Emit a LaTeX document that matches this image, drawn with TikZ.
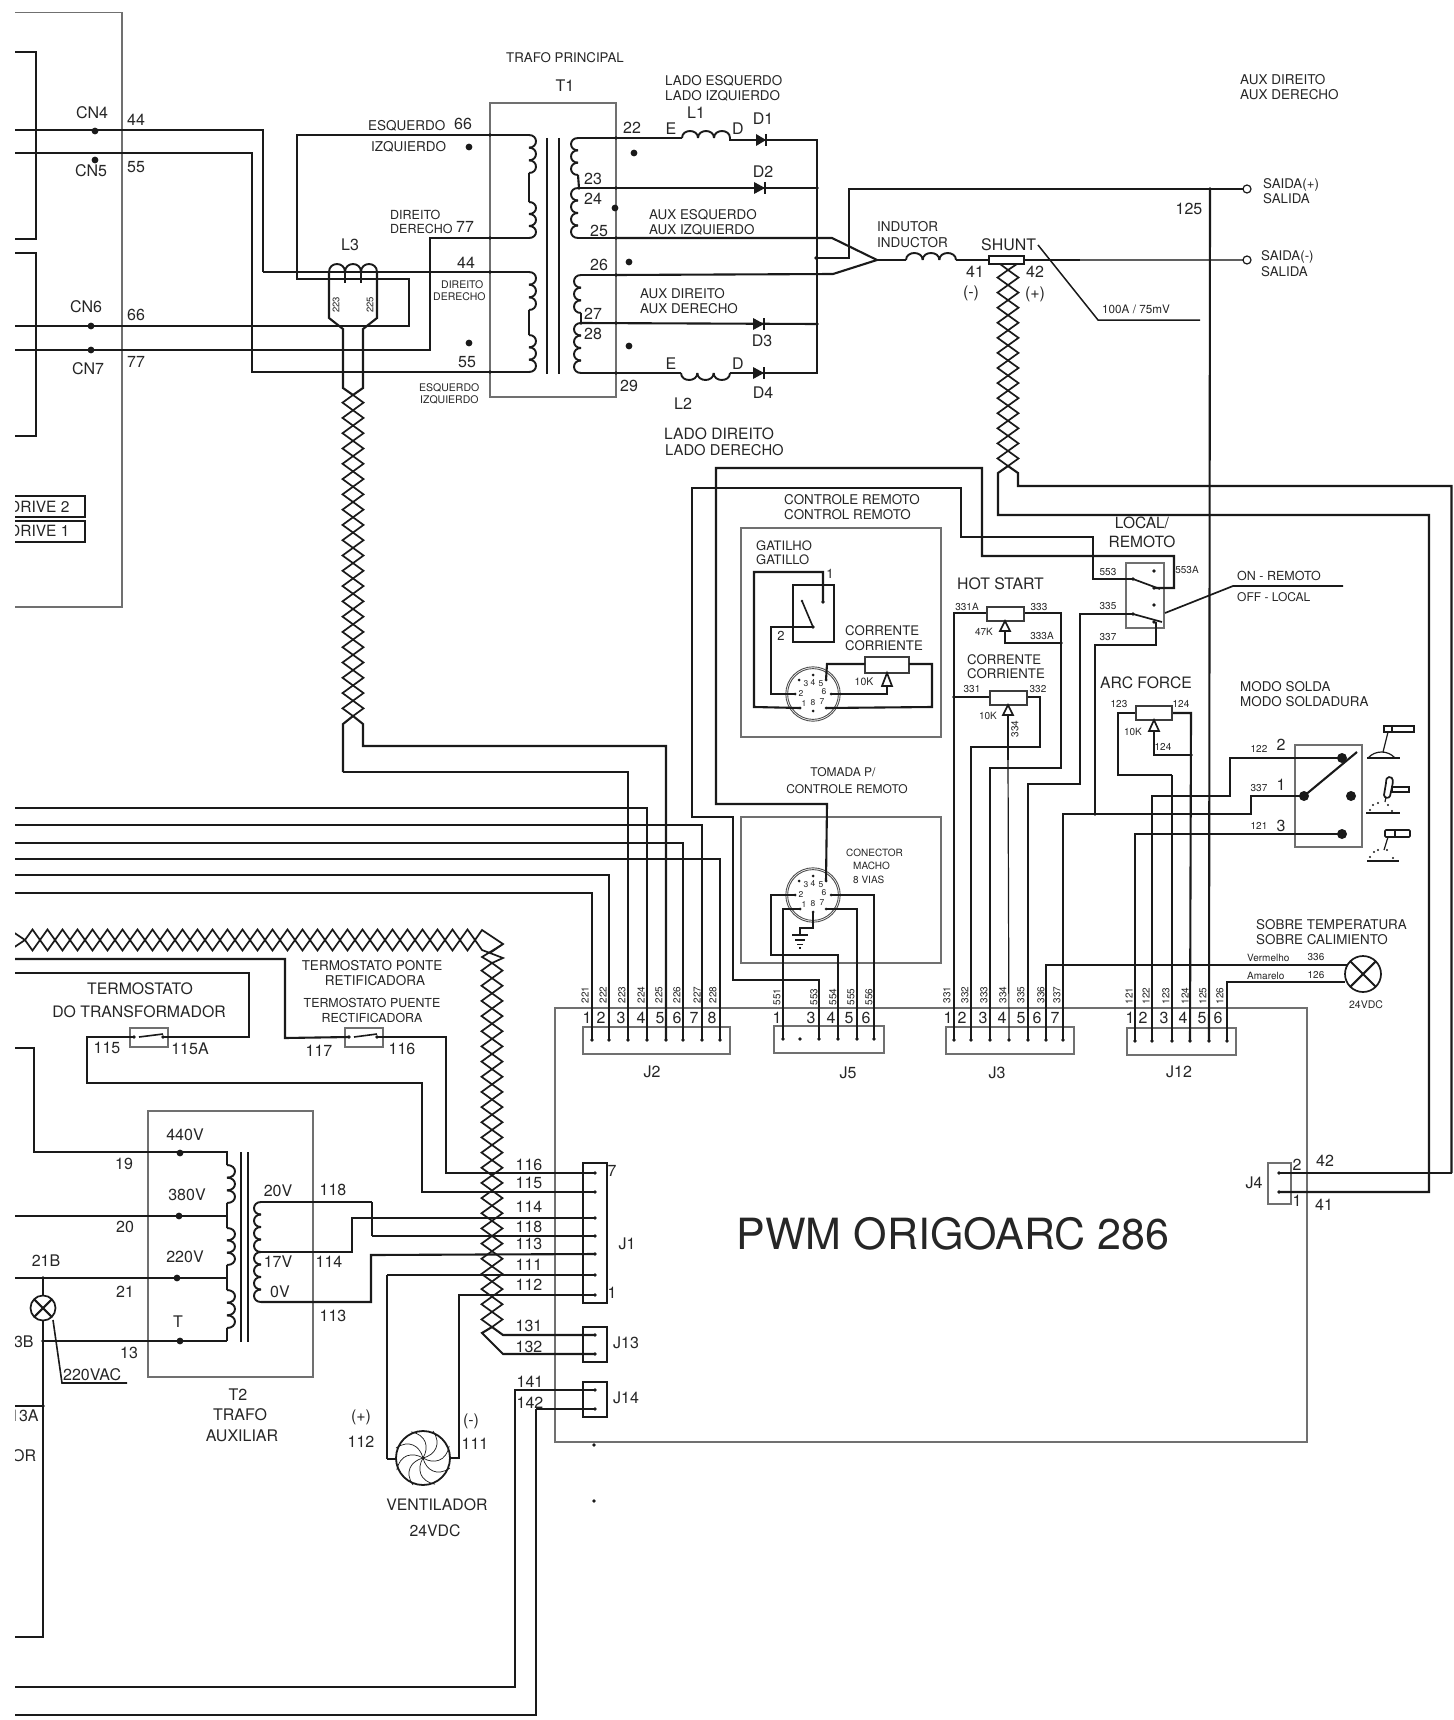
\documentclass[tikz,border=0pt]{standalone}
\usepackage{fontspec}
\setmainfont{TeX Gyre Heros}
\definecolor{ink}{HTML}{1A1A1A}
\definecolor{txt}{HTML}{262626}
\definecolor{boxg}{HTML}{707070}
\newcounter{lbl}
\tikzset{
  wire/.style={draw=ink,line width=2.1pt,line join=miter},
  twisted/.style={draw=ink,line width=1.7pt,line join=miter},
  thinw/.style={draw=ink,line width=1.2pt},
  grayb/.style={draw=boxg,line width=1.1pt},
  part/.style={draw=ink,line width=1.7pt},
  potb/.style={draw=ink!85,line width=1.1pt,fill=white},
  lab/.style={inner sep=0pt,text=txt},
}
% text helpers: centre, left aligned, rotated
\newcommand\Tc[4]{\stepcounter{lbl}\node[lab,font=\fontsize{#3}{#3}\selectfont] (lbl\thelbl) at (#1,#2) {#4};}
\newcommand\Tl[4]{\stepcounter{lbl}\node[lab,anchor=west,yshift=-.8pt,font=\fontsize{#3}{#3}\selectfont] (lbl\thelbl) at (#1,#2) {#4};}
\newcommand\Tr[4]{\stepcounter{lbl}\node[lab,rotate=90,font=\fontsize{#3}{#3}\selectfont] (lbl\thelbl) at (#1,#2) {#4};}
% pin: named coordinate and a dot
\newcommand\pin[3]{\coordinate (#1) at (#2,#3);\fill[ink] (#1) circle (1.9pt);}
\newcommand\bigdot[3]{\coordinate (#1) at (#2,#3);\fill[ink] (#1) circle (3.4pt);}
% coils
\newcommand\coilV[5]{\pgfmathsetmacro\hh{(#3-#2)/#4}\foreach \i in {1,...,#4}{\pgfmathsetmacro\ya{#2+(\i-1)*\hh}\pgfmathsetmacro\yb{#2+\i*\hh}\pgfmathsetmacro\xc{#1+#5*1.33}\draw[wire,line width=1.9pt] (#1,\ya) .. controls (\xc,\ya) and (\xc,\yb) .. (#1,\yb);}}
\newcommand\coilH[5]{\pgfmathsetmacro\hh{(#2-#1)/#4}\foreach \i in {1,...,#4}{\pgfmathsetmacro\xa{#1+(\i-1)*\hh}\pgfmathsetmacro\xb{#1+\i*\hh}\pgfmathsetmacro\yc{#3+#5*1.33}\draw[wire,line width=1.9pt] (\xa,#3) .. controls (\xa,\yc) and (\xb,\yc) .. (\xb,#3);}}
% twisted pairs: crossings from first to last, n periods
\newcommand\twistV[5]{\pgfmathsetmacro\hh{(#3-#2)/#4}\foreach \i in {1,...,#4}{\pgfmathsetmacro\ya{#2+(\i-1)*\hh}\pgfmathsetmacro\yb{#2+\i*\hh}\pgfmathsetmacro\ym{(\ya+\yb)/2}\pgfmathsetmacro\xl{#1-#5}\pgfmathsetmacro\xr{#1+#5}\draw[twisted] (#1,\ya) -- (\xl,\ym) -- (#1,\yb) -- (\xr,\ym) -- cycle;}}
\newcommand\twistH[5]{\pgfmathsetmacro\hh{(#2-#1)/#4}\foreach \i in {1,...,#4}{\pgfmathsetmacro\xa{#1+(\i-1)*\hh}\pgfmathsetmacro\xb{#1+\i*\hh}\pgfmathsetmacro\xm{(\xa+\xb)/2}\pgfmathsetmacro\yu{#3-#5}\pgfmathsetmacro\yd{#3+#5}\draw[twisted] (\xa,#3) -- (\xm,\yu) -- (\xb,#3) -- (\xm,\yd) -- cycle;}}
% diode: base x, tip x, y
\newcommand\diode[3]{\fill[ink] (#1,#3-6) -- (#2,#3) -- (#1,#3+6) -- cycle;\draw[ink,line width=1.8pt] (#2,#3-6) -- (#2,#3+6);}
% open arrow of a potentiometer
\newcommand\potarrow[3]{\draw[draw=ink,fill=white,line width=1.7pt,line join=miter] (#1,#2) -- (#1+5,#3) -- (#1-5,#3) -- cycle;}
% 8 way connector
\newcommand\eightway[3]{%
  \draw[boxg!70!black,line width=.9pt] (#1,#2) circle (27.2pt);
  \draw[boxg!70!black,line width=.9pt] (#1,#2) circle (25.4pt);
  \pinsm{#3a}{#1-13}{#2+14}\pinsm{#3b}{#1-18}{#2}\pinsm{#3c}{#1-14}{#2-14}\pinsm{#3d}{#1}{#2-19}%
  \pinsm{#3e}{#1+13}{#2-14}\pinsm{#3f}{#1+18}{#2}\pinsm{#3g}{#1+13}{#2+14}\pinsm{#3h}{#1}{#2+17}%
  \Tc{#1-9}{#2+9}{8.5}{1}\Tc{#1-12}{#2-1}{8.5}{2}\Tc{#1-7}{#2-10}{8.5}{3}\Tc{#1}{#2-12}{8.5}{4}%
  \Tc{#1+8}{#2-10}{8.5}{5}\Tc{#1+11}{#2-2}{8.5}{6}\Tc{#1+9}{#2+8}{8.5}{7}\Tc{#1}{#2+9}{8.5}{8}}
\newcommand\pinsm[3]{\coordinate (#1) at ({#2},{#3});\fill[ink] (#1) circle (1.5pt);}
\newcommand\lampX[3]{\draw[part,fill=white] (#1,#2) circle (#3pt);\draw[wire] (#1,#2) ++(-#3*.72,-#3*.72) -- ++(#3*1.44,#3*1.44);\draw[wire] (#1,#2) ++(#3*.72,-#3*.72) -- ++(-#3*1.44,#3*1.44);}
\begin{document}
\begin{tikzpicture}[x=1pt,y=-1pt]
\useasboundingbox (0,0) rectangle (1453,1720);
\fill[white] (0,0) rectangle (1453,1720);
\begin{scope}
\clip (15,0) rectangle (1453,1720);
%-------- gray boxes
\draw[grayb] (15,12.5) -- (122,12.5) -- (122,607) -- (15,607);
\draw[grayb] (490,103) rectangle (616,397);
\draw[grayb] (741,528) rectangle (941,737);
\draw[grayb] (741,817) rectangle (941,963);
\draw[grayb] (1126,563) rectangle (1164,628);
\draw[grayb] (1295,745) rectangle (1362,847);
\draw[part] (793,585) rectangle (834,642);
\draw[grayb] (555,1008) -- (1307,1008) -- (1307,1442) -- (555,1442) -- cycle;
\draw[grayb] (583,1027) rectangle (730,1054);
\draw[grayb] (774,1026) rectangle (884,1053);
\draw[grayb] (946,1027) rectangle (1074,1054);
\draw[grayb] (1127,1028) rectangle (1236,1055);
\draw[grayb] (1268,1163) rectangle (1291,1204);
\draw[grayb] (148,1111) rectangle (313,1377);
\draw[grayb] (130,1028) rectangle (168,1047);
\draw[grayb] (345,1028) rectangle (383,1047);
%-------- left frames
\draw[wire] (15,52) -- (36,52) -- (36,239) -- (15,239);
\draw[wire] (15,253) -- (36,253) -- (36,436) -- (15,436);
\draw[wire] (15,496) -- (85,496) -- (85,517) -- (15,517);
\draw[wire] (15,521) -- (85,521) -- (85,542) -- (15,542);
\Tl{9}{506}{15.5}{DRIVE 2}
\Tl{9}{530}{15.5}{DRIVE 1}
%-------- T1 pins
\pin{pa}{490}{135}\pin{pb}{490}{238}\pin{pc}{490}{272}\pin{pd}{490}{372}
\pin{sa}{616}{138}\pin{sb}{616}{188}\pin{sc}{616}{238}\pin{sd}{616}{275}\pin{se}{616}{323}\pin{sf}{616}{373}
\bigdot{cn4}{95}{131}\bigdot{cn5}{95}{160}\bigdot{cn6}{91}{326}\bigdot{cn7}{91}{350}
\bigdot{d1}{469}{147}\bigdot{d2}{469}{343}\bigdot{d3}{634}{153}\bigdot{d4}{615}{208}\bigdot{d5}{629}{262}\bigdot{d6}{629}{346}
%-------- primary wiring
\draw[wire] (15,130) -- (263,130) -- (263,272);
\draw[thinw] (263,272) -- (pc) -- (530,272);
\draw[wire] (15,153) -- (252,153) -- (252,372) -- (pd) -- (530,372);
\draw[wire] (15,326) -- (409,326) -- (409,279) -- (297,279) -- (297,135) -- (pa) -- (529,135);
\draw[wire] (15,350) -- (430,350) -- (430,238) -- (pb) -- (529,238);
\coilV{529}{135}{173}{3}{7}\draw[wire] (529,173) -- (529,202);\coilV{529}{202}{238}{3}{7}
\coilV{529}{272}{310}{3}{7}\draw[wire] (529,310) -- (529,335);\coilV{529}{335}{372}{3}{7}
\draw[draw=ink,line width=1.5pt] (547,138) -- (547,374) (559,138) -- (559,374);
%-------- secondary wiring
\draw[wire] (sa) -- (578,138);
\coilV{578}{138}{175}{3}{-7}
\pin{t23}{579}{188}
\draw[wire] (578,175) -- (t23);
\coilV{578}{188}{238}{4}{-7}
\draw[wire] (578,238) -- (sc);
\draw[wire] (sd) -- (581,275);
\coilV{581}{275}{313}{3}{-7}
\pin{t27}{581}{323}
\draw[wire] (581,313) -- (t27);
\coilV{581}{323}{373}{4}{-7}
\draw[wire] (581,373) -- (sf);
% rectifier
\pin{bus1}{817}{188}\pin{bus2}{817}{324}\pin{bus3}{816}{258}
\draw[wire] (sa) -- (682,138);
\coilH{682}{730}{138}{3}{-7}
\draw[wire] (730,138) -- (730,140) -- (817,140) -- (817,373) -- (730,373);
\draw[wire] (t23) -- (bus1);
\draw[wire] (t27) -- (bus2);
\draw[wire] (sf) -- (681,373);
\coilH{681}{730}{373}{3}{7}
\diode{756}{766}{140}\diode{754}{765}{188}\diode{753}{764}{324}\diode{753}{764}{373}
\coordinate (apex) at (877,260);
\draw[wire] (sc) -- (832,238) -- (apex);
\draw[wire] (sd) -- (833,274) -- (apex);
\draw[wire] (bus3) -- (849,258) -- (849,189) -- (1210,189);
\pin{n125}{1210}{189}
\coordinate (sp) at (1247,189);\coordinate (sm) at (1247,260);
\draw[wire] (n125) -- (sp);
\draw[draw=ink,line width=1.2pt,fill=white] (sp) circle (4pt);
\draw[wire] (apex) -- (906,260);
\coilH{906}{956}{260}{3}{-7}
\draw[wire] (956,260) -- (989,260);
\draw[wire] (1024,260) -- (1080,260);
\draw[draw=ink!70,line width=1.4pt] (1080,260) -- (sm);
\draw[draw=ink,line width=1.2pt,fill=white] (sm) circle (4pt);
\draw[part,fill=white] (989,256) rectangle (1024,264);
\draw[thinw,line width=1.5pt] (1038,245) -- (1098,320) -- (1200,320);
%-------- L3
\coilH{329}{377}{272}{3}{-8}
\draw[wire] (345,272) -- (345,283) (361,272) -- (361,283);
\draw[wire] (329,272) -- (329,318) -- (343,329) -- (343,388) -- (353,395);
\draw[wire] (377,272) -- (377,318) -- (363,329) -- (363,388) -- (353,395);
\twistV{353}{395}{716}{21}{10.5}
%-------- J2
\foreach \n/\x in {1/592,2/609,3/628,4/647,5/666,6/683,7/702,8/720}{\pin{jb\n}{\x}{1040}}
\draw[wire] (353,716) -- (343,724) -- (343,772);
\draw[thinw] (343,772) -- (628,772) -- (jb3);
\draw[wire] (353,716) -- (363,724) -- (363,746) -- (666,746) -- (jb5);
\draw[wire] (jb1) |- (15,893);
\draw[wire] (jb2) |- (15,875);
\draw[wire] (jb4) |- (15,808);
\draw[wire] (jb6) |- (15,843);
\draw[wire] (jb7) |- (15,825);
\draw[wire] (jb8) |- (15,859);
\foreach \t/\x/\r/\q in {1/587/221/585,2/601/222/603,3/621/223/622,4/641/224/641,5/660/225/659,6/677/226/677,7/694/227/697,8/712/228/713}{\Tc{\x}{1018}{16}{\t}\Tr{\q}{995}{10}{\r}}
%-------- J5
\foreach \n/\x in {a/783,b/800,c/819,d/838,e/857,f/874}{\pin{je\n}{\x}{1039}}
\foreach \t/\x/\r/\q in {1/777/551/777,3/811/553/814,4/831/554/833,5/849/555/851,6/866/556/869}{\Tc{\x}{1018}{16}{\t}\Tr{\q}{997}{10}{\r}}
\eightway{813}{895}{cm}
\eightway{813}{694}{cr}
\draw[wire] (jea) |- (cma);
\draw[wire] (jec) -- (819,980) -- (733,980) -- (733,817) -- (692,817) -- (692,488) -- (961,488) -- (961,537) -- (1093,537) -- (1093,579) -- (1133,579);
\draw[wire] (jed) -- (838,955) -- (771,955) -- (771,895) -- (cmb);
\draw[wire] (jee) |- (cmg);
\draw[wire] (jef) |- (cmf);
\draw[wire] (cme) -- (827,804) -- (716,804) -- (716,468) -- (982,468) -- (982,556) -- (1174,556) -- (1174,588) -- (1154,588);
\draw[wire] (cmh) -- (813,928) -- (800,928) -- (800,935);
\draw[wire] (792,935) -- (808,935);
\draw[wire] (795,940) -- (805,940);
\draw[wire,line width=1.6pt] (797,944.5) -- (803,944.5);
\draw[wire,line width=1.3pt] (799,948) -- (801,948);
%-------- remote box
\pin{sw1}{823}{602}\pin{sw2}{813}{627}
\draw[wire] (sw1) -- (823,572) -- (754,572) -- (754,707) -- (cra);
\draw[thinw,line width=1.6pt] (802,601) -- (sw2);
\fill[ink] (802,601) circle (1.4pt);
\draw[wire] (sw2) -- (771,627) -- (771,694) -- (crb);
\draw[potb] (865,657) rectangle (909,673);
\draw[wire] (865,664) -- (827,664) -- (cre);
\draw[wire] (909,664) -- (932,664) -- (932,707) -- (crg);
\draw[wire] (887,686) -- (887,694) -- (crf);
\potarrow{887}{673}{686}
%-------- J3
\foreach \n/\x in {a/954,b/971,c/990,d/1009,e/1028,f/1046,g/1063}{\pin{jc\n}{\x}{1040}}
\foreach \t/\x/\r/\q in {1/948/331/947,2/962/332/965,3/983/333/984,4/1002/334/1003,5/1021/335/1021,6/1037/336/1041,7/1055/337/1057}{\Tc{\x}{1018}{16}{\t}\Tr{\q}{995}{10}{\r}}
\pin{hs1}{1061}{643}\pin{cs1}{954}{697}
\draw[wire] (jca) -- (954,613) -- (987,613);
\draw[wire] (1024,613) -- (1061,613) -- (1061,768) -- (990,768) -- (jcc);
\draw[wire] (1005,631) -- (1005,643) -- (hs1);
\draw[potb] (987,607) rectangle (1024,621);
\potarrow{1005}{621}{631}
\draw[wire] (cs1) -- (990,697);
\draw[wire] (1027,697) -- (1040,697) -- (1040,747) -- (971,747) -- (jcb);
\draw[potb] (990,691) rectangle (1027,705);
\draw[wire] (1008,715) -- (1008,760);
\draw[thinw] (1008,760) -- (jcd);
\potarrow{1008}{705}{715}
\draw[wire] (jce) -- (1028,784) -- (1080,784) -- (1080,614) -- (1133,614);
\pin{jn337}{1095}{814}
\draw[wire] (jcg) -- (1063,814) -- (1251,814) -- (1251,796) -- (1304,796);
\draw[wire] (jn337) -- (1095,645) -- (1156,645) -- (1156,622);
%-------- local/remote switch
\pin{lr1}{1133}{579}\pin{lr2}{1133}{614}\pin{lr3}{1154}{571}\pin{lr4}{1154}{588}\pin{lr5}{1154}{605}\pin{lr6}{1154}{622}
\draw[thinw,line width=1.7pt] (lr1) -- (1160,589);
\draw[thinw,line width=1.7pt] (lr2) -- (1162,622);
\draw[thinw,line width=1.7pt] (1165,613) -- (1233,586) -- (1343,586);
%-------- arc force
\draw[wire] (1136,713) -- (1118,713) -- (1118,775) -- (1172,775);
\pin{jl1}{1135}{1041}\pin{jl2}{1152}{1041}\pin{jl3}{1172}{1041}\pin{jl4}{1190}{1041}\pin{jl5}{1209}{1041}\pin{jl6}{1227}{1041}
\draw[wire] (1172,775) -- (jl3);
\draw[wire] (1172,713) -- (1191,713) -- (1190,1041);
\pin{af1}{1191}{755}
\draw[wire] (1154,731) -- (1154,755) -- (af1);
\draw[potb] (1136,706) rectangle (1172,720);
\potarrow{1154}{720}{731}
\foreach \t/\x/\r/\q in {1/1130/121/1129,2/1143/122/1146,3/1164/123/1166,4/1183/124/1185,5/1202/125/1203,6/1218/126/1220}{\Tc{\x}{1018}{16}{\t}\Tr{\q}{996}{10}{\r}}
%-------- modo solda
\bigdot{ms1}{1342}{758}\bigdot{ms2}{1304}{796}\bigdot{ms3}{1351}{796}\bigdot{ms4}{1342}{834}
\fill[ink] (ms1) circle (5pt) (ms2) circle (5pt) (ms3) circle (5pt) (ms4) circle (5pt);
\draw[wire] (ms2) -- (1357,752);
\draw[wire] (jl1) |- (ms4);
\draw[wire] (jl2) -- (1152,796) -- (1230,796) -- (1230,758) -- (ms1);
\draw[wire] (jl5) -- (n125);
% welding icons
\draw[part] (1384,726) rectangle (1414,732) (1392,726) -- (1392,732);
\draw[thinw] (1388,732) -- (1383,752);
\draw[thinw] (1368,758) .. controls (1375,750) and (1388,750) .. (1395,758);
\draw[part] (1367,758) -- (1400,758);
\draw[part] (1389,777) .. controls (1394,777) and (1393,782) .. (1392,787) -- (1390,796) .. controls (1389,799) and (1384,798) .. (1384,795) -- (1386,783) .. controls (1386,779) and (1387,777) .. (1389,777) -- cycle;
\draw[part] (1392,787) rectangle (1409,792);
\draw[thinw] (1386,797) -- (1385,802);
\draw[part] (1366,813) -- (1400,813);
\foreach \p in {(1370,810),(1373,805),(1378,803),(1388,805),(1392,811)}{\fill[ink] \p circle (1.1pt);}
\draw[part,rounded corners=1pt] (1385,830) rectangle (1410,837) (1395,830) -- (1395,837);
\draw[thinw] (1388,837) -- (1384,850);
\draw[part] (1367,861) -- (1399,861);
\foreach \p in {(1370,857),(1374,852),(1378,850),(1387,850),(1393,858)}{\fill[ink] \p circle (1.1pt);}
%-------- twist to shunt and J4
\draw[twisted] (1000,264) -- (1008,270);
\draw[twisted] (1017,264) -- (1008,270);
\twistV{1008}{270}{466}{13}{10.5}
\pin{jd2}{1279}{1173}\pin{jd1}{1279}{1192}
\draw[wire] (1008,466) -- (998,473) -- (998,515) -- (1429,515) -- (1429,1192) -- (jd1);
\draw[wire] (1008,466) -- (1018,473) -- (1018,486) -- (1451.5,486) -- (1451.5,1173);
\draw[thinw] (1451.5,1173) -- (jd2);
%-------- lamp over temperature
\draw[wire] (jcf) -- (1046,965) -- (1347,965);
\draw[wire] (jl6) -- (1227,982) -- (1345,982);
\lampX{1363}{974}{18}
%-------- thermostats
\pin{ta1}{134}{1037}\pin{ta2}{163}{1037}\pin{tb1}{349}{1037}\pin{tb2}{377}{1037}
\draw[thinw,line width=1.6pt] (139,1037) -- (ta2 |- 0,1034);
\draw[thinw,line width=1.6pt] (354,1037) -- (tb2 |- 0,1034);
\pin{j7}{595}{1173}\pin{j6}{595}{1192}\pin{j5a}{595}{1218}\pin{j4a}{595}{1236}\pin{j3a}{595}{1254}\pin{j2a}{595}{1275}\pin{j1a}{595}{1295}
\draw[wire] (15,959) -- (285,959) -- (285,1038) -- (tb1);
\draw[wire] (tb2) -- (446,1037) -- (446,1173) -- (j7);
\draw[wire] (15,973) -- (249,973) -- (249,1037) -- (ta2);
\draw[wire] (ta1) -- (87,1037) -- (87,1083) -- (422,1083) -- (422,1192) -- (j6);
%-------- T2
\bigdot{v440}{180}{1153}\bigdot{v380}{179}{1216}\bigdot{v220}{177}{1278}\bigdot{vT}{180}{1341}
\draw[wire] (15,1048) -- (34,1048) -- (34,1152) -- (227,1152) -- (227,1165);
\coilV{227}{1165}{1203}{3}{8}
\draw[wire] (227,1203) -- (227,1228);
\coilV{227}{1228}{1265}{3}{8}
\draw[wire] (227,1265) -- (227,1290);
\coilV{227}{1290}{1328}{3}{8}
\draw[wire] (227,1328) -- (227,1341);
\draw[wire] (15,1216) -- (227,1216);
\draw[wire] (15,1278) -- (227,1278);
\pin{b13}{43}{1341}
\draw[wire] (b13) -- (227,1341);
\draw[draw=ink,line width=1.3pt] (241,1152) -- (241,1342) (248,1152) -- (248,1342);
\coilV{261}{1202}{1252}{4}{-7}
\coilV{261}{1252}{1302}{4}{-7}
\draw[wire] (261,1202) -- (372,1202);
\draw[thinw] (372,1202) -- (372,1236);
\draw[wire] (372,1236) -- (j4a);
\draw[wire] (261,1252) -- (352,1252) -- (352,1218) -- (j5a);
\draw[wire] (261,1302) -- (371,1302) -- (371,1255) -- (595,1254);
%-------- 21B lamp
\pin{b21}{43}{1278}
\pin{a13}{43}{1406}
\draw[wire] (b21) -- (43,1296);
\draw[wire] (43,1320) -- (43,1637) -- (15,1637);
\draw[wire] (15,1406) -- (a13);
\lampX{43}{1308}{12.5}
\draw[thinw,line width=1.6pt] (53,1320) -- (62,1383) -- (127,1383);
%-------- twist to J1
\twistH{25}{475}{940}{30}{10.5}
\draw[twisted] (10,930) -- (25,940) (10,950) -- (25,940);
\draw[twisted] (475,940) -- (482,930) -- (503,944) -- (490,953);
\draw[twisted] (475,940) -- (482,950) -- (490,953) -- (503,958) -- (492,963);
\draw[twisted] (503,944) -- (482,957) -- (492,963);
\twistV{492}{963}{1327}{24}{10.5}
\pin{j13a}{595}{1335}\pin{j13b}{595}{1354}\pin{j14a}{595}{1390}\pin{j14b}{595}{1409}
\draw[wire] (492,1327) -- (503,1335) -- (j13a);
\draw[wire] (492,1327) -- (482,1333) -- (503,1354) -- (j13b);
\draw[wire] (j3a) -- (595,1254);
\draw[wire] (j2a) -- (387,1275);
\draw[thinw,line width=1.5pt] (387,1275) -- (387,1459);
\draw[wire] (387,1459) -- (396,1459);
\draw[wire] (j1a) -- (459,1295) -- (459,1458) -- (450,1458);
\draw[wire] (j14a) -- (515,1390) -- (515,1687) -- (15,1687);
\draw[thinw,line width=1.5pt] (j14b) -- (536,1409);
\draw[wire] (536,1409) -- (536,1715) -- (15,1715);
\draw[wire] (583,1163) rectangle (607,1303);
\draw[wire] (583,1327) rectangle (607,1362);
\draw[wire] (583,1382) rectangle (607,1417);
\pin{st1}{594}{1445}\pin{st2}{594}{1501}
% fan
\draw[part,fill=white,line width=1.8pt] (423,1458) circle (27pt);
\foreach \r in {0,45,...,315}{\begin{scope}[shift={(423,1458)},rotate=\r]\draw[draw=ink,line width=.7pt] (0,0) .. controls (3,12) and (14,19) .. (27,10);\end{scope}}
%-------- labels top left
\Tc{92}{113}{16}{CN4}\Tc{136}{120}{16}{44}\Tc{91}{171}{16}{CN5}\Tc{136}{167}{16}{55}
\Tc{86}{307}{16}{CN6}\Tc{136}{315}{16}{66}\Tc{88}{369}{16}{CN7}\Tc{136}{362}{16}{77}
\Tl{368}{125}{13.5}{ESQUERDO}\Tc{463}{124}{16}{66}\Tl{371}{146}{13.5}{IZQUIERDO}
\Tl{390}{214}{12.5}{DIREITO}\Tl{390}{228}{12.5}{DERECHO}\Tc{465}{227}{16}{77}
\Tc{350}{245}{16}{L3}\Tc{466}{263}{16}{44}
\Tl{441}{284}{10.5}{DIREITO}\Tl{433}{296}{10.5}{DERECHO}
\Tc{467}{362}{16}{55}\Tl{419}{387}{10.5}{ESQUERDO}\Tl{420}{399}{10.5}{IZQUIERDO}
\Tr{336}{305}{9.5}{223}\Tr{370}{305}{9.5}{225}
%-------- labels T1
\Tl{506}{57}{13.3}{TRAFO PRINCIPAL}\Tc{565}{86}{16}{T1}
\Tl{665}{80}{13.4}{LADO ESQUERDO}\Tl{665}{95}{13.4}{LADO IZQUIERDO}
\Tc{696}{113}{16}{L1}\Tc{763}{119}{16}{D1}\Tc{632}{128}{16}{22}\Tc{671}{129}{16}{E}\Tc{738}{129}{16}{D}
\Tc{763}{172}{16}{D2}\Tc{593}{179}{16}{23}\Tc{593}{199}{16}{24}\Tc{599}{231}{16}{25}\Tc{599}{265}{16}{26}
\Tc{593}{314}{16}{27}\Tc{593}{334}{16}{28}\Tc{629}{386}{16}{29}\Tc{762}{341}{16}{D3}
\Tc{671}{364}{16}{E}\Tc{738}{364}{16}{D}\Tc{763}{393}{16}{D4}\Tc{683}{404}{16}{L2}
\Tl{649}{214}{13.4}{AUX ESQUERDO}\Tl{649}{229}{13.4}{AUX IZQUIERDO}
\Tl{640}{293}{13.4}{AUX DIREITO}\Tl{640}{308}{13.4}{AUX DERECHO}
\Tl{664}{433}{15.6}{LADO DIREITO}\Tl{665}{449}{14.8}{LADO DERECHO}
%-------- labels right top
\Tl{1240}{79}{13.5}{AUX DIREITO}\Tl{1240}{94}{13.5}{AUX DERECHO}
\Tl{1263}{184}{13.3}{SAIDA(+)}\Tl{1263}{198}{13.3}{SALIDA}
\Tl{1261}{256}{13.3}{SAIDA(-)}\Tl{1261}{271}{13.3}{SALIDA}
\Tc{1189}{209}{16}{125}
\Tl{877}{226}{13.5}{INDUTOR}\Tl{877}{242}{13.5}{INDUCTOR}
\Tl{981}{244}{15.9}{SHUNT}\Tl{1102}{309}{11.7}{100A / 75mV}
\Tc{975}{272}{16}{41}\Tc{971}{293}{16}{(-)}\Tc{1035}{272}{16}{42}\Tc{1035}{294}{16}{(+)}
%-------- labels remote
\Tl{784}{499}{13.4}{CONTROLE REMOTO}\Tl{784}{514}{13.4}{CONTROL REMOTO}
\Tl{756}{545}{13}{GATILHO}\Tl{756}{559}{13}{GATILLO}
\Tc{830}{574}{13}{1}\Tc{781}{636}{13}{2}
\Tl{845}{630}{13.2}{CORRENTE}\Tl{845}{645}{13.2}{CORRIENTE}
\Tc{864}{682}{10.5}{10K}
\Tl{957}{583}{15.8}{HOT START}
\Tc{967}{607}{10}{331A}\Tc{1039}{607}{10}{333}\Tc{984}{632}{10}{47K}\Tc{1042}{636}{10}{333A}
\Tl{967}{659}{13.2}{CORRENTE}\Tl{967}{673}{13.2}{CORRIENTE}
\Tc{972}{689}{10}{331}\Tc{1038}{689}{10}{332}\Tc{988}{716}{10}{10K}\Tr{1015}{729}{10}{334}
\Tc{1142}{523}{15.5}{LOCAL/}\Tc{1142}{542}{15.5}{REMOTO}
\Tl{1237}{575}{12.5}{ON - REMOTO}\Tl{1237}{596}{12}{OFF - LOCAL}
\Tc{1108}{572}{10}{553}\Tc{1187}{570}{10}{553A}\Tc{1108}{606}{10}{335}\Tc{1108}{637}{10}{337}
\Tl{1100}{682}{15.7}{ARC FORCE}
\Tc{1119}{704}{10}{123}\Tc{1181}{704}{10}{124}\Tc{1133}{732}{10}{10K}\Tc{1163}{747}{10}{124}
\Tl{1240}{686}{13.4}{MODO SOLDA}\Tl{1240}{701}{13.4}{MODO SOLDADURA}
\Tc{1259}{749}{10}{122}\Tc{1281}{745}{16}{2}\Tc{1259}{788}{10}{337}\Tc{1281}{785}{16}{1}\Tc{1259}{826}{10}{121}\Tc{1281}{826}{16}{3}
%-------- labels tomada
\Tc{843}{772}{12}{TOMADA P/}\Tc{847}{789}{12}{CONTROLE REMOTO}
\Tl{846}{852}{10}{CONECTOR}\Tl{853}{865}{10}{MACHO}\Tl{853}{879}{10}{8 VIAS}
%-------- connector names
\Tc{652}{1072}{16}{J2}\Tc{848}{1073}{16}{J5}\Tc{997}{1073}{16}{J3}\Tc{1179}{1072}{16}{J12}
\Tl{1256}{924}{13.4}{SOBRE TEMPERATURA}\Tl{1256}{939}{13.4}{SOBRE CALIMIENTO}
\Tl{1247}{957}{10}{Vermelho}\Tc{1316}{957}{10}{336}\Tl{1247}{975}{10}{Amarelo}\Tc{1316}{975}{10}{126}\Tc{1366}{1005}{10.5}{24VDC}
\Tc{1297}{1165}{16}{2}\Tc{1297}{1201}{16}{1}\Tc{1325}{1161}{16}{42}\Tc{1324}{1205}{16}{41}\Tc{1254}{1183}{16}{J4}
\Tc{953}{1234}{43}{PWM ORIGOARC 286}
%-------- labels thermostats
\Tc{140}{989}{15.8}{TERMOSTATO}\Tc{139}{1012}{15.8}{DO TRANSFORMADOR}
\Tc{107}{1048}{16}{115}\Tc{190}{1049}{16}{115A}\Tc{319}{1051}{16}{117}\Tc{402}{1049}{16}{116}
\Tc{372}{966}{13.5}{TERMOSTATO PONTE}\Tc{375}{981}{13.5}{RETIFICADORA}
\Tc{372}{1003}{12.4}{TERMOSTATO PUENTE}\Tc{372}{1018}{12.4}{RECTIFICADORA}
%-------- labels T2
\Tc{185}{1135}{16}{440V}\Tc{124}{1164}{16}{19}\Tc{187}{1195}{16}{380V}\Tc{125}{1227}{16}{20}
\Tc{185}{1257}{16}{220V}\Tc{125}{1292}{16}{21}\Tc{46}{1261}{16}{21B}\Tc{178}{1322}{16}{T}\Tc{129}{1353}{16}{13}
\Tl{5}{1341}{16}{13B}\Tl{63}{1374}{16}{220VAC}\Tl{10}{1415}{16}{13A}\Tl{12}{1455}{16}{OR}
\Tc{278}{1191}{16}{20V}\Tc{333}{1190}{16}{118}\Tc{278}{1262}{16}{17V}\Tc{329}{1262}{16}{114}\Tc{280}{1292}{16}{0V}\Tc{333}{1316}{16}{113}
\Tc{238}{1395}{16}{T2}\Tc{240}{1415}{16}{TRAFO}\Tc{242}{1436}{16}{AUXILIAR}
%-------- labels J1
\Tc{529}{1165}{16}{116}\Tc{529}{1183}{16}{115}\Tc{529}{1207}{16}{114}\Tc{529}{1227}{16}{118}\Tc{529}{1244}{16}{113}\Tc{529}{1265}{16}{111}\Tc{529}{1285}{16}{112}
\Tc{612}{1171}{16}{7}\Tc{612}{1293}{16}{1}\Tc{627}{1244}{16}{J1}
\Tc{529}{1326}{16}{131}\Tc{529}{1347}{16}{132}\Tc{626}{1343}{16}{J13}
\Tc{530}{1382}{16}{141}\Tc{530}{1403}{16}{142}\Tc{626}{1398}{16}{J14}
\Tc{361}{1417}{16}{(+)}\Tc{361}{1442}{16}{112}\Tc{471}{1421}{16}{(-)}\Tc{475}{1444}{16}{111}
\Tc{437}{1505}{15.8}{VENTILADOR}\Tc{435}{1531}{15.8}{24VDC}
\end{scope}
\end{tikzpicture}
\end{document}
